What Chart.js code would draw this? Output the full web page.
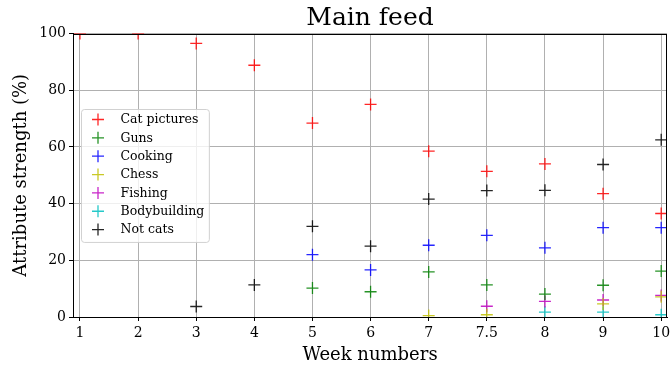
<!DOCTYPE html>
<html>
<head>
<meta charset="utf-8">
<script src="https://cdn.jsdelivr.net/npm/chart.js@4/dist/chart.umd.min.js"></script>
<style>
  html, body { margin: 0; padding: 0; background: #fff; }
  #wrap { width: 672px; height: 372px; }
</style>
</head>
<body>
<div id="wrap"><canvas id="c" width="672" height="372"></canvas></div>
<script>
// Week labels along the x axis (evenly spaced categories)
const weeks = ['1', '2', '3', '4', '5', '6', '7', '7.5', '8', '9', '10'];

// Attribute strength (%) per week; null = not measured that week
const catPictures  = [100, 100, 96.5, 88.8, 68.4, 75.0, 58.5, 51.4, 54.0, 43.5, 36.5];
const guns         = [null, null, null, null, 10.2, 8.9, 15.9, 11.3, 8.1, 11.2, 16.2];
const cooking      = [null, null, null, null, 22.0, 16.6, 25.3, 28.8, 24.4, 31.5, 31.5];
const chess        = [null, null, null, null, null, null, 0.5, 0.8, null, 4.6, 7.1];
const fishing      = [null, null, null, null, null, null, null, 3.8, 5.5, 6.0, 7.6];
const bodybuilding = [null, null, null, null, null, null, null, null, 1.7, 1.7, 0.8];
const notCats      = [null, null, 3.7, 11.3, 32.0, 25.0, 41.6, 44.6, 44.7, 53.8, 62.5];

const yTicks = [0, 20, 40, 60, 80, 100];

const seriesNames  = ['Cat pictures', 'Guns', 'Cooking', 'Chess', 'Fishing', 'Bodybuilding', 'Not cats'];
const seriesValues = [catPictures, guns, cooking, chess, fishing, bodybuilding, notCats];
const seriesColors = ['rgba(255,0,0,0.85)', 'rgba(0,128,0,0.85)', 'rgba(0,0,255,0.85)',
                      'rgba(191,191,0,0.85)', 'rgba(191,0,191,0.85)', 'rgba(0,191,191,0.85)',
                      'rgba(0,0,0,0.85)'];

const SERIF = "'DejaVu Serif', 'Liberation Serif', serif";
Chart.defaults.font.family = SERIF;
Chart.defaults.color = '#000';

function toPoints(values) {
  return values.map((v, i) => ({ x: i, y: v })).filter(p => p.y !== null);
}

const datasets = seriesNames.map((name, k) => ({
  label: name,
  data: toPoints(seriesValues[k]),
  pointStyle: 'cross',
  pointRadius: 6,
  pointBorderWidth: 1.3,
  borderColor: seriesColors[k],
  backgroundColor: seriesColors[k],
  showLine: false,
  clip: 0
}));

// Title above the plot area, centred over the axes
const titlePlugin = {
  id: 'axesTitle',
  afterDraw(chart) {
    const { ctx, chartArea } = chart;
    ctx.save();
    ctx.font = '25px ' + SERIF;
    ctx.fillStyle = '#000';
    ctx.textAlign = 'center';
    ctx.textBaseline = 'middle';
    ctx.fillText('Main feed', (chartArea.left + chartArea.right) / 2, 18);
    ctx.restore();
  }
};

// Full frame around the plot area
const framePlugin = {
  id: 'frame',
  afterDatasetsDraw(chart) {
    const { ctx, chartArea: a } = chart;
    ctx.save();
    ctx.strokeStyle = '#000';
    ctx.lineWidth = 1;
    ctx.strokeRect(Math.round(a.left) + 0.5, Math.round(a.top) + 0.5,
                   Math.round(a.right - a.left) - 1, Math.round(a.bottom - a.top) - 1);
    ctx.restore();
  }
};

// Legend box drawn inside the plot area, left side
const insideLegend = {
  id: 'insideLegend',
  afterDraw(chart) {
    const { ctx, chartArea: a } = chart;
    const fontPx = 12.5;
    const rowH = 18.35;
    const left = a.left + 8.5, top = a.top + 76;
    ctx.save();
    ctx.font = fontPx + 'px ' + SERIF;
    let maxW = 0;
    chart.data.datasets.forEach(ds => { maxW = Math.max(maxW, ctx.measureText(ds.label).width); });
    const textX = left + 39;
    const width = textX - left + maxW + 5;
    const height = rowH * chart.data.datasets.length + 4.5;
    ctx.beginPath();
    ctx.roundRect(left, top, width, height, 3);
    ctx.fillStyle = 'rgba(255,255,255,0.8)';
    ctx.fill();
    ctx.strokeStyle = 'rgba(204,204,204,0.9)';
    ctx.lineWidth = 1;
    ctx.stroke();
    chart.data.datasets.forEach((ds, i) => {
      const cy = top + 10 + i * rowH;
      const mx = left + 16.5;
      ctx.strokeStyle = ds.borderColor;
      ctx.lineWidth = ds.pointBorderWidth;
      ctx.beginPath();
      ctx.moveTo(mx - 6, cy); ctx.lineTo(mx + 6, cy);
      ctx.moveTo(mx, cy - 6); ctx.lineTo(mx, cy + 6);
      ctx.stroke();
      ctx.fillStyle = '#000';
      ctx.textBaseline = 'middle';
      ctx.textAlign = 'left';
      ctx.fillText(ds.label, textX, cy + 0.5);
    });
    ctx.restore();
  }
};

new Chart(document.getElementById('c'), {
  type: 'scatter',
  data: { datasets },
  options: {
    responsive: false,
    animation: false,
    events: [],
    layout: { autoPadding: false, padding: { top: 33.5, right: 5, left: 0, bottom: 0 } },
    plugins: { legend: { display: false }, tooltip: { enabled: false }, title: { display: false } },
    scales: {
      x: {
        type: 'linear',
        min: -0.12,
        max: 10.1,
        afterBuildTicks(scale) { scale.ticks = weeks.map((w, i) => ({ value: i })); },
        afterFit(scale) { scale.height = 55; scale.paddingLeft = 0; scale.paddingRight = 0; },
        ticks: {
          callback: (v) => weeks[v],
          font: { size: 14 },
          padding: 4,
          maxRotation: 0,
          autoSkip: false
        },
        grid: { color: '#b0b0b0', lineWidth: 1, tickColor: '#000', tickLength: 4 },
        border: { color: '#000', width: 1 },
        title: { display: true, text: 'Week numbers', font: { size: 18 }, padding: { top: 0, bottom: 6 } }
      },
      y: {
        min: 0,
        max: 100,
        afterBuildTicks(scale) { scale.ticks = yTicks.map(v => ({ value: v })); },
        afterFit(scale) { scale.width = 73; },
        ticks: { font: { size: 14 }, padding: 3 },
        grid: { color: '#b0b0b0', lineWidth: 1, tickColor: '#000', tickLength: 4 },
        border: { color: '#000', width: 1 },
        title: { display: true, text: 'Attribute strength (%)', font: { size: 18 }, padding: { top: 10.5, bottom: 0 } }
      }
    }
  },
  plugins: [titlePlugin, framePlugin, insideLegend]
});
</script>
</body>
</html>
